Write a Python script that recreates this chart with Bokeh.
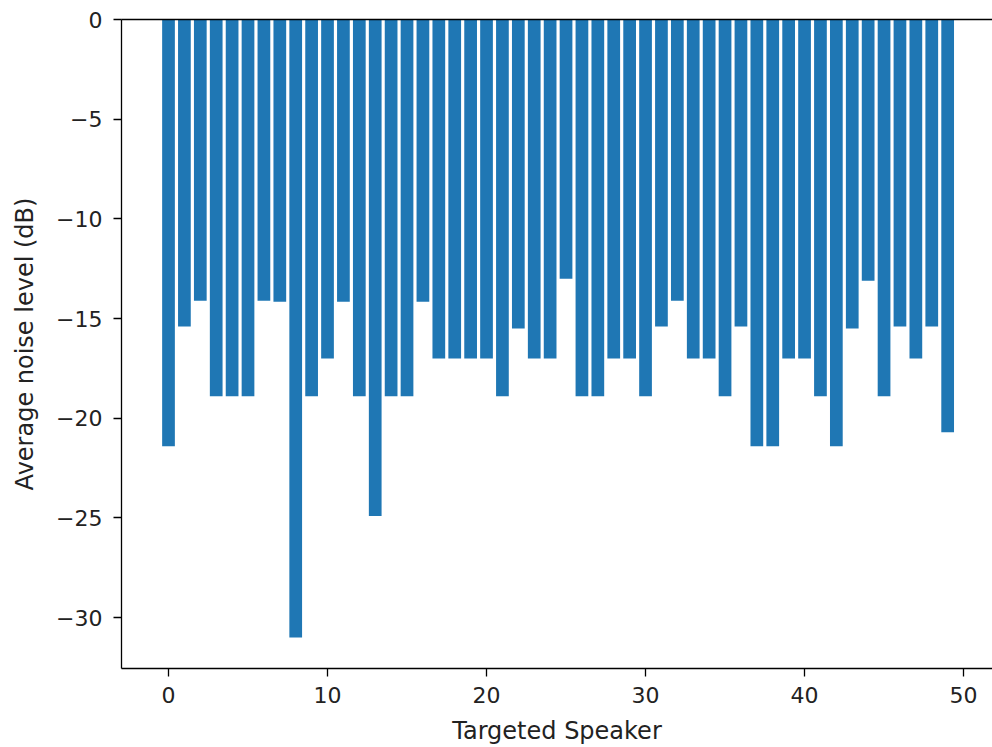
from bokeh.plotting import figure
from bokeh.models import Range1d, LinearAxis, FixedTicker, ColumnDataSource
from bokeh.embed import file_html
from bokeh.resources import INLINE

speakers = list(range(50))
noise_db = [
    -21.4, -15.4, -14.1, -18.9, -18.9, -18.9, -14.1, -14.15, -31.0, -18.9,
    -17.0, -14.15, -18.9, -24.9, -18.9, -18.9, -14.15, -17.0, -17.0, -17.0,
    -17.0, -18.9, -15.5, -17.0, -17.0, -13.0, -18.9, -18.9, -17.0, -17.0,
    -18.9, -15.4, -14.1, -17.0, -17.0, -18.9, -15.4, -21.4, -21.4, -17.0,
    -17.0, -18.9, -21.4, -15.5, -13.1, -18.9, -15.4, -17.0, -15.4, -20.7,
]
x_ticks = [0, 10, 20, 30, 40, 50]
y_ticks = [0, -5, -10, -15, -20, -25, -30]

FONT = "DejaVu Sans"

source = ColumnDataSource(data=dict(x=speakers, top=[0] * len(speakers), bottom=noise_db))

p = figure(
    width=992, height=747,
    output_backend="svg", toolbar_location=None,
    x_range=Range1d(-2.956, 51.82), y_range=Range1d(-32.55, 0),
    min_border_left=121, min_border_right=0, min_border_top=19, min_border_bottom=77,
)
p.vbar(x="x", top="top", bottom="bottom", width=0.8, source=source,
       fill_color="#1f77b4", line_color=None)

p.grid.visible = False
p.outline_line_color = None
p.background_fill_color = "white"
p.border_fill_color = "white"

for ax in (p.xaxis[0], p.yaxis[0]):
    ax.axis_line_color = "black"
    ax.axis_line_width = 1.3
    ax.major_tick_line_color = "black"
    ax.major_tick_line_width = 1.3
    ax.major_tick_out = 8
    ax.major_tick_in = 0
    ax.minor_tick_line_color = None
    ax.major_label_text_font = FONT
    ax.major_label_text_font_size = "22px"
    ax.major_label_text_color = "#222222"
    ax.axis_label_text_font = FONT
    ax.axis_label_text_font_size = "24px"
    ax.axis_label_text_font_style = "normal"
    ax.axis_label_text_color = "#222222"

p.xaxis[0].ticker = FixedTicker(ticks=x_ticks)
p.yaxis[0].ticker = FixedTicker(ticks=y_ticks)
p.xaxis[0].axis_label = "Targeted Speaker"
p.yaxis[0].axis_label = "Average noise level (dB)"
p.xaxis[0].major_label_standoff = 10
p.xaxis[0].axis_label_standoff = 11
p.yaxis[0].major_label_standoff = 11
p.yaxis[0].axis_label_standoff = 14
p.yaxis[0].major_label_overrides = {t: ("0" if t == 0 else "\u2212" + str(abs(t))) for t in y_ticks}

top_axis = LinearAxis(ticker=FixedTicker(ticks=[]), major_tick_out=0, major_tick_in=0,
                      minor_tick_line_color=None, major_label_text_font_size="0px",
                      major_label_standoff=0, axis_label_standoff=0,
                      axis_line_color="black", axis_line_width=1.3)
p.add_layout(top_axis, "above")

open("out.html", "w").write(file_html(p, INLINE))
